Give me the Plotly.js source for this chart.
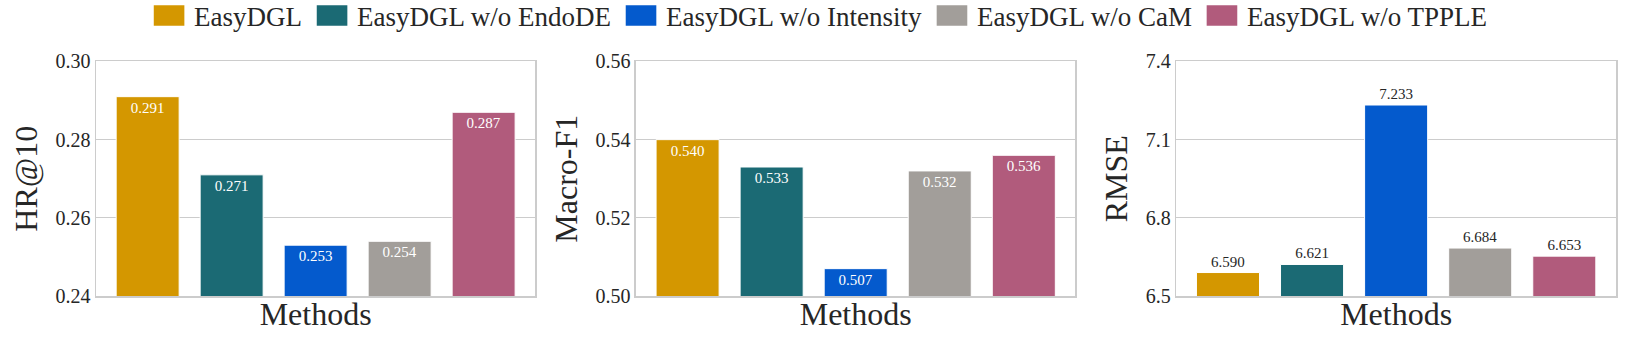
<!DOCTYPE html>
<html>
<head>
<meta charset="utf-8">
<script src="https://cdn.plot.ly/plotly-3.0.1.min.js"></script>
<style>html,body{margin:0;padding:0;background:#fff}</style>
</head>
<body>
<div id="chart" style="width:1628px;height:343px"></div>
<script>
// methods (legend / categories)
const methods = ['EasyDGL', 'EasyDGL w/o EndoDE', 'EasyDGL w/o Intensity', 'EasyDGL w/o CaM', 'EasyDGL w/o TPPLE'];
const colors = ['#D49700', '#1B6A74', '#045ACD', '#A29E9A', '#B15B7C'];

// metric values per method
const hr10 = [0.291, 0.271, 0.253, 0.254, 0.287];
const macroF1 = [0.540, 0.533, 0.507, 0.532, 0.536];
const rmse = [6.590, 6.621, 7.233, 6.684, 6.653];

const panels = [
  {values: hr10, title: 'HR@10', range: [0.24, 0.30], dtick: 0.02, fmt: '.2f', inside: true},
  {values: macroF1, title: 'Macro-F1', range: [0.50, 0.56], dtick: 0.02, fmt: '.2f', inside: true},
  {values: rmse, title: 'RMSE', range: [6.5, 7.4], dtick: 0.3, fmt: '.1f', inside: false}
];
const domains = [[0, 0.289], [0.3552, 0.6444], [0.7107, 1]];

const font = "'Liberation Serif', 'Times New Roman', serif";
const ink = '#262626';
const grid = '#cccccc';

const traces = [];
const layout = {
  width: 1628, height: 343,
  margin: {l: 96, r: 10, t: 56, b: 47},
  paper_bgcolor: '#fff', plot_bgcolor: '#fff',
  font: {family: font, color: ink},
  barmode: 'overlay',
  showlegend: true,
  legend: {
    orientation: 'h', xref: 'container', yref: 'container',
    x: 0.5025, xanchor: 'center', y: 0.9534, yanchor: 'middle',
    itemwidth: 40,
    font: {family: font, size: 27, color: ink}, bgcolor: 'rgba(0,0,0,0)'
  }
};

panels.forEach((p, k) => {
  const sfx = k === 0 ? '' : String(k + 1);
  methods.forEach((m, i) => {
    traces.push({
      type: 'bar',
      x: [m], y: [p.values[i]],
      width: 0.75,
      name: m, legendgroup: m, showlegend: k === 0,
      xaxis: 'x' + sfx, yaxis: 'y' + sfx,
      marker: {color: colors[i], line: {color: '#ffffff', width: 1}},
      text: [p.values[i].toFixed(3)],
      textposition: p.inside ? 'inside' : 'outside',
      insidetextanchor: 'end',
      textangle: 0,
      textfont: {family: font, size: 15, color: p.inside ? '#ffffff' : ink},
      hoverinfo: 'skip'
    });
  });

  layout['xaxis' + sfx] = {
    domain: domains[k], anchor: 'y' + sfx,
    type: 'category', range: [-0.615, 4.615],
    showticklabels: false, showgrid: false, zeroline: false, ticks: '',
    showline: true, mirror: true, linecolor: grid, linewidth: 1.5,
    automargin: true,
    title: {text: 'Methods', standoff: 6, font: {family: font, size: 32, color: ink}}
  };
  layout['yaxis' + sfx] = {
    domain: [0, 1], anchor: 'x' + sfx,
    range: p.range, tick0: p.range[0], dtick: p.dtick, tickformat: p.fmt,
    showgrid: true, gridcolor: grid, gridwidth: 1.2, zeroline: false, ticks: '',
    showline: true, mirror: true, linecolor: grid, linewidth: 1.5,
    automargin: true,
    tickfont: {family: font, size: 20, color: ink},
    title: {text: p.title, standoff: 8, font: {family: font, size: 32, color: ink}}
  };
});

Plotly.newPlot('chart', traces, layout, {displayModeBar: false, staticPlot: true}).then(() => {
  // wide legend swatches as in the original figure
  document.querySelectorAll('.legend .legendpoints path').forEach(el => {
    el.setAttribute('d', 'M15.3,10.3H-15.3V-10.3H15.3Z');
    el.style.strokeWidth = '0';
  });
});
</script>
</body>
</html>
